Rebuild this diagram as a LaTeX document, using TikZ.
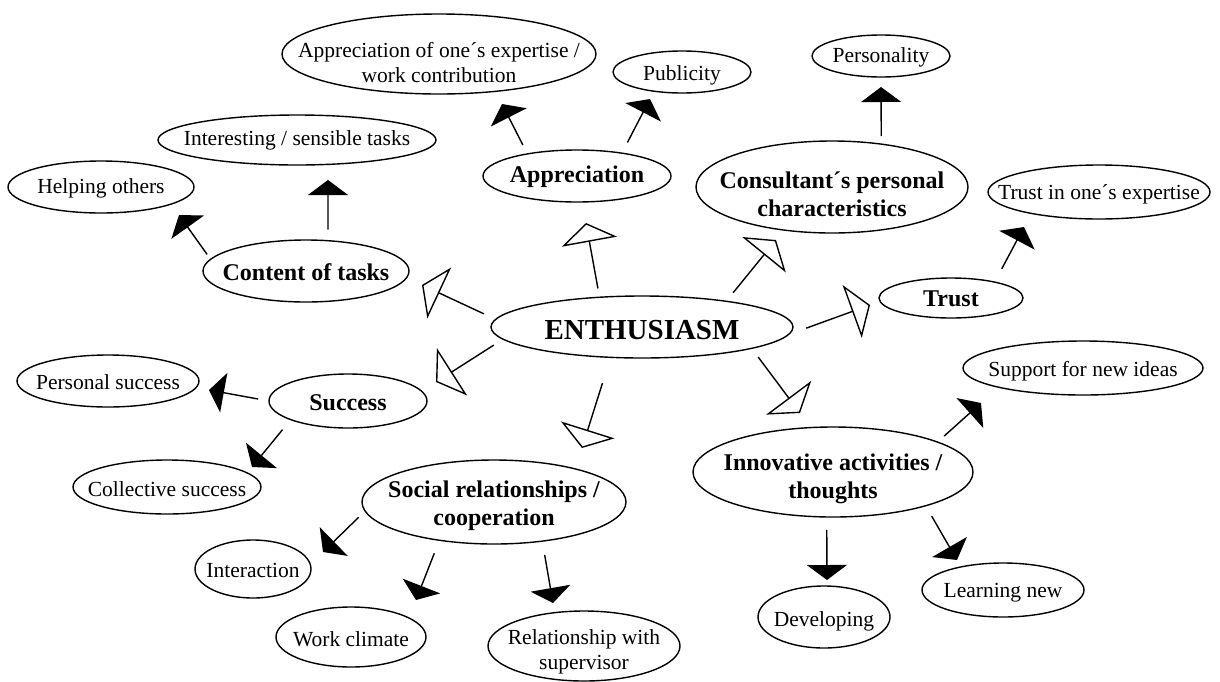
\documentclass[tikz,border=0pt]{standalone}
\usepackage{fontspec}
\setmainfont{Liberation Serif}
\usetikzlibrary{arrows.meta,shapes.geometric}
\newcommand{\regfont}{\fontsize{21.5}{25}\selectfont}
\newcommand{\bldfont}{\fontsize{24}{28}\selectfont\bfseries}
\newcommand{\bigfont}{\fontsize{29}{33}\selectfont\bfseries}
\tikzset{
  bub/.style 2 args={draw, ellipse, line width=1.4pt, inner sep=0pt, outer sep=0pt,
    minimum width=#1pt, minimum height=#2pt},
  rtxt/.style={font=\regfont, align=center, inner sep=0pt},
  btxt/.style={font=\bldfont, align=center, inner sep=0pt},
  mainarr/.style={line width=1.4pt, -{Triangle[open, length=19pt, width=56pt, line width=1.4pt]}},
  subarr/.style={line width=1.4pt, -{Triangle[length=15pt, width=40pt]}},
}
\begin{document}
\begin{tikzpicture}[x=1pt,y=-1pt]
\path[use as bounding box, fill=white] (0,0) rectangle (1220,681);

% nodes (text as centred labels, shifted down like the original)
\node[bub={302}{62}, label={[btxt, font=\bigfont, yshift=-3pt]center:{ENTHUSIASM}}] (enth) at (642,327) {};
\node[bub={314}{80}, label={[rtxt, yshift=-9pt]center:{Appreciation of one´s expertise /\\work contribution}}] (app1) at (439,54) {};
\node[bub={138}{42}, label={[rtxt, yshift=-3pt]center:{Publicity}}] (pub) at (682,72) {};
\node[bub={138}{42}, label={[rtxt, yshift=-1pt]center:{Personality}}] (pers) at (881,56) {};
\node[bub={278}{50}, label={[rtxt, yshift=0pt]center:{Interesting / sensible tasks}}] (inter) at (297,140) {};
\node[bub={186}{52}, label={[rtxt, yshift=-1pt]center:{Helping others}}] (help) at (101,187) {};
\node[bub={188}{52}, label={[btxt, yshift=-1pt]center:{Appreciation}}] (appr) at (577,176) {};
\node[bub={272}{92}, label={[btxt, yshift=-7pt]center:{Consultant´s personal\\characteristics}}] (cons) at (832,187) {};
\node[bub={222}{54}, label={[rtxt, yshift=-2pt]center:{Trust in one´s expertise}}] (trustin) at (1099,192) {};
\node[bub={206}{62}, label={[btxt, yshift=-1pt]center:{Content of tasks}}] (content) at (306,271) {};
\node[bub={144}{40}, label={[btxt, yshift=-1pt]center:{Trust}}] (trust) at (951,298) {};
\node[bub={240}{54}, label={[rtxt, yshift=-3pt]center:{Support for new ideas}}] (support) at (1083,368) {};
\node[bub={182}{52}, label={[rtxt, yshift=-1pt]center:{Personal success}}] (psucc) at (108,381) {};
\node[bub={158}{54}, label={[btxt, yshift=-2pt]center:{Success}}] (succ) at (348,401) {};
\node[bub={188}{54}, label={[rtxt, yshift=-2pt]center:{Collective success}}] (csucc) at (167,487) {};
\node[bub={280}{90}, label={[btxt, yshift=-7pt]center:{Innovative activities /\\thoughts}}] (innov) at (833,472) {};
\node[bub={264}{84}, label={[btxt, yshift=-4pt]center:{Social relationships /\\cooperation}}] (social) at (494,502) {};
\node[bub={116}{58}, label={[rtxt, yshift=-1pt]center:{Interaction}}] (iact) at (253,569) {};
\node[bub={150}{60}, label={[rtxt, yshift=-2pt]center:{Work climate}}] (work) at (351,637) {};
\node[bub={192}{70}, label={[rtxt, yshift=-6pt]center:{Relationship with\\supervisor}}] (rel) at (584,646) {};
\node[bub={132}{62}, label={[rtxt, yshift=-4pt]center:{Developing}}] (dev) at (824,617) {};
\node[bub={162}{54}, label={[rtxt, yshift=-3pt]center:{Learning new}}] (learn) at (1003,590) {};

% free arrow tips
\coordinate (tCont) at (422,285);
\coordinate (tAppr) at (586,223);
\coordinate (tCons) at (776,240);
\coordinate (tTrust) at (870,305);
\coordinate (tInnov) at (800,413);
\coordinate (tSoc) at (582,448);
\coordinate (tSucc) at (436,382);
\coordinate (tHelp) at (179,215);
\coordinate (tInt) at (328,180);
\coordinate (tApp1) at (502,104);
\coordinate (tPub) at (650,99);
\coordinate (tPers) at (881,87);
\coordinate (tTin) at (1024,227);
\coordinate (tPsu) at (209,390);
\coordinate (tCsu) at (252,467);
\coordinate (tSup) at (981,403);
\coordinate (tDev) at (827,580);
\coordinate (tLrn) at (957,560);
\coordinate (tIact) at (323,552);
\coordinate (tWork) at (416,600);
\coordinate (tRel) at (553,603);

% main connectors
\draw[mainarr, shorten <=13pt] (enth.177) -- (tCont);
\draw[mainarr, shorten <=9pt] (enth.145) -- (tAppr);
\draw[mainarr, shorten <=11pt] (enth.17) -- (tCons);
\draw[mainarr, shorten <=19pt] (enth.-3) -- (tTrust);
\draw[mainarr, shorten <=11pt] (enth.-11) -- (tInnov);
\draw[mainarr, shorten <=27pt] (enth.-136) -- (tSoc);
\draw[mainarr, shorten <=11pt] (enth.185) -- (tSucc);

% sub connectors
\draw[subarr, shorten <=6pt] (content.173) -- (tHelp);
\draw[subarr, shorten <=11pt] (content.54) -- (tInt);
\draw[subarr, shorten <=10pt] (appr.156) -- (tApp1);
\draw[subarr, shorten <=12pt] (appr.27) -- (tPub);
\draw[subarr, shorten <=8pt] (cons.41) -- (tPers);
\draw[subarr, shorten <=15pt] (trust.20) -- (tTin);
\draw[subarr, shorten <=11pt] (succ.180) -- (tPsu);
\draw[subarr, shorten <=13pt] (succ.198) -- (tCsu);
\draw[subarr, shorten <=9pt] (innov.16) -- (tSup);
\draw[subarr, shorten <=13pt] (innov.-98) -- (tDev);
\draw[subarr, shorten <=12pt] (innov.-20) -- (tLrn);
\draw[subarr, shorten <=9pt] (social.184) -- (tIact);
\draw[subarr, shorten <=14pt] (social.215) -- (tWork);
\draw[subarr, shorten <=14pt] (social.-39) -- (tRel);
\end{tikzpicture}
\end{document}
